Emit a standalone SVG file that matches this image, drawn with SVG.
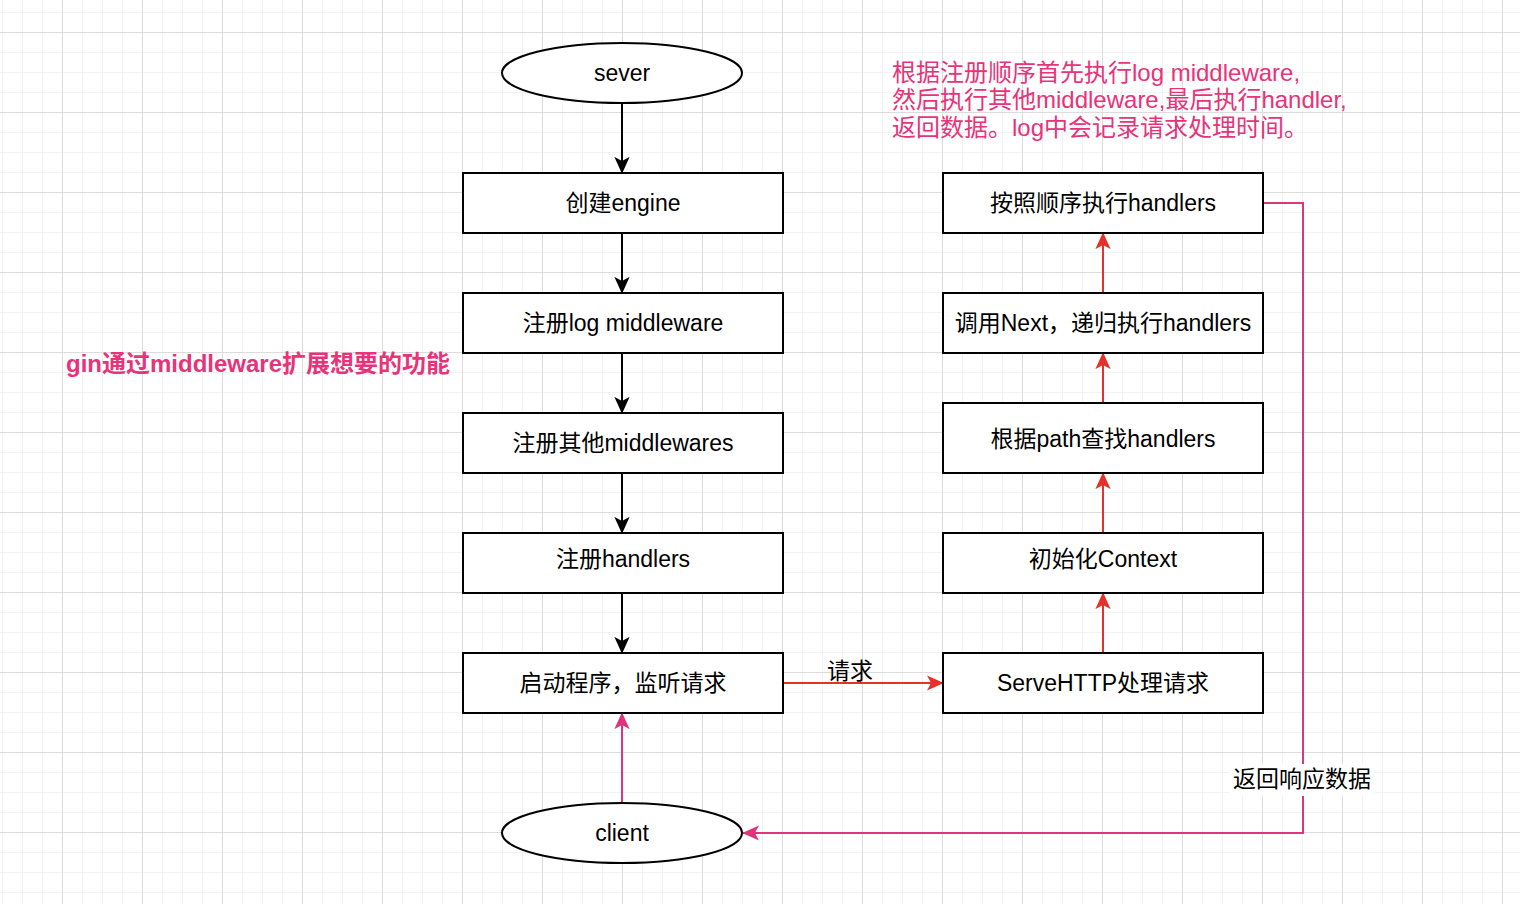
<svg xmlns="http://www.w3.org/2000/svg" width="1520" height="904" viewBox="0 0 1520 904">
<defs>
<pattern id="minor" x="2" y="12" width="20" height="20" patternUnits="userSpaceOnUse">
<path d="M0 0.5H20M0.5 0V20" fill="none" stroke="#f2f2f2" stroke-width="1"/>
</pattern>
<pattern id="major" x="62" y="32" width="80" height="80" patternUnits="userSpaceOnUse">
<path d="M0 0.5H80M0.5 0V80" fill="none" stroke="#dcdcdc" stroke-width="1"/>
</pattern>
<marker id="ab" viewBox="0 0 10 10" refX="9.5" refY="5" markerWidth="17" markerHeight="17" markerUnits="userSpaceOnUse" orient="auto"><path d="M0 0.5L10 5L0 9.5L2.5 5Z" fill="#000"/></marker>
<marker id="ar" viewBox="0 0 10 10" refX="9.5" refY="5" markerWidth="17" markerHeight="17" markerUnits="userSpaceOnUse" orient="auto"><path d="M0 0.5L10 5L0 9.5L2.5 5Z" fill="#e8302a"/></marker>
<marker id="ap" viewBox="0 0 10 10" refX="9.5" refY="5" markerWidth="17" markerHeight="17" markerUnits="userSpaceOnUse" orient="auto"><path d="M0 0.5L10 5L0 9.5L2.5 5Z" fill="#e0347a"/></marker>
<style>
.n{fill:#fff;stroke:#000;stroke-width:2}
.t{font-family:"Liberation Sans","Noto Sans CJK SC",sans-serif;font-size:23px;fill:#000;text-anchor:middle;dominant-baseline:central}
.a{font-family:"Liberation Sans","Noto Sans CJK SC",sans-serif;font-size:24px;fill:#e8337a}
.cb{fill:none;stroke:#000;stroke-width:2;marker-end:url(#ab)}
.cr{fill:none;stroke:#e8302a;stroke-width:2;marker-end:url(#ar)}
.cp{fill:none;stroke:#e0347a;stroke-width:2;marker-end:url(#ap)}
</style>
</defs>
<rect width="1520" height="904" fill="#fff"/>
<rect width="1520" height="904" fill="url(#minor)"/>
<rect width="1520" height="904" fill="url(#major)"/>

<g id="connectors">
<path class="cb" d="M622 103V173"/>
<path class="cb" d="M622 233V293"/>
<path class="cb" d="M622 353V413"/>
<path class="cb" d="M622 473V533"/>
<path class="cb" d="M622 593V653"/>
<path class="cp" d="M622 803V713"/>
<path class="cr" d="M783 683H943"/>
<path class="cr" d="M1103 653V593"/>
<path class="cr" d="M1103 533V473"/>
<path class="cr" d="M1103 403V353"/>
<path class="cr" d="M1103 293V233"/>
<path class="cp" d="M1263 203H1303V833H743"/>
<text class="t" x="850" y="671">请求</text>
<rect x="1229" y="764" width="146" height="32" fill="#fff"/>
<text class="t" x="1302" y="779">返回响应数据</text>
</g>

<g id="sever"><ellipse class="n" cx="622" cy="73" rx="120" ry="30"/><text class="t" x="622" y="73">sever</text></g>
<g id="create-engine"><rect class="n" x="463" y="173" width="320" height="60"/><text class="t" x="623" y="203">创建engine</text></g>
<g id="reg-log"><rect class="n" x="463" y="293" width="320" height="60"/><text class="t" x="623" y="323">注册log middleware</text></g>
<g id="reg-other"><rect class="n" x="463" y="413" width="320" height="60"/><text class="t" x="623" y="443">注册其他middlewares</text></g>
<g id="reg-handlers"><rect class="n" x="463" y="533" width="320" height="60"/><text class="t" x="623" y="559">注册handlers</text></g>
<g id="start"><rect class="n" x="463" y="653" width="320" height="60"/><text class="t" x="623" y="683">启动程序，监听请求</text></g>
<g id="client"><ellipse class="n" cx="622" cy="833" rx="120" ry="30"/><text class="t" x="622" y="833">client</text></g>

<g id="exec-handlers"><rect class="n" x="943" y="173" width="320" height="60"/><text class="t" x="1103" y="203">按照顺序执行handlers</text></g>
<g id="call-next"><rect class="n" x="943" y="293" width="320" height="60"/><text class="t" x="1103" y="323">调用Next，递归执行handlers</text></g>
<g id="find-handlers"><rect class="n" x="943" y="403" width="320" height="70"/><text class="t" x="1103" y="439">根据path查找handlers</text></g>
<g id="init-context"><rect class="n" x="943" y="533" width="320" height="60"/><text class="t" x="1103" y="559">初始化Context</text></g>
<g id="serve-http"><rect class="n" x="943" y="653" width="320" height="60"/><text class="t" x="1103" y="683">ServeHTTP处理请求</text></g>

<g id="note-top">
<text class="a" x="892" y="81">根据注册顺序首先执行log middleware,</text>
<text class="a" x="892" y="108">然后执行其他middleware,最后执行handler,</text>
<text class="a" x="892" y="136">返回数据。log中会记录请求处理时间。</text>
</g>
<g id="note-left"><text class="a" x="66" y="372" font-weight="bold">gin通过middleware扩展想要的功能</text></g>
</svg>
